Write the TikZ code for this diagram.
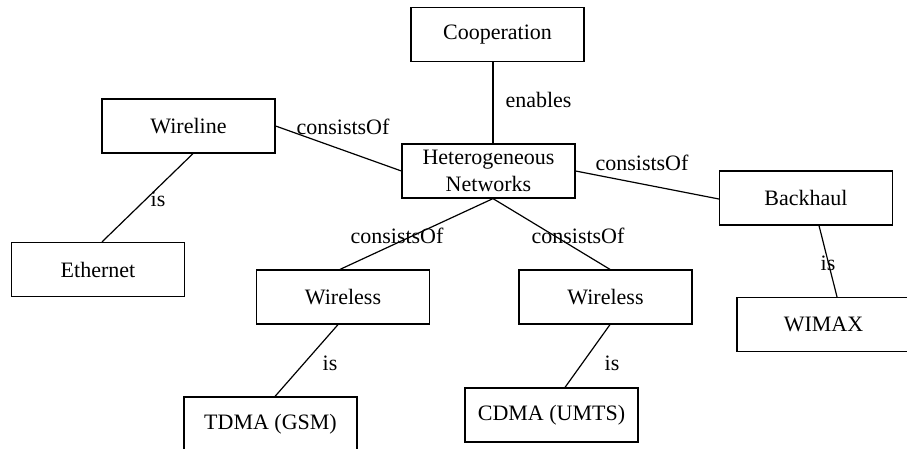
\documentclass[tikz,border=0pt]{standalone}
\usepackage{fontspec}
\setmainfont{Liberation Serif}
\begin{document}
\begin{tikzpicture}[x=1pt,y=-1pt,
  concept/.style={draw, line width=1.2pt, rectangle, minimum width=173pt, minimum height=54pt,
    inner sep=2pt, align=center, font=\fontsize{22}{27}\selectfont},
  rel/.style={anchor=base, inner sep=0pt, font=\fontsize{22}{27}\selectfont},
  link/.style={line width=1.2pt}]
\useasboundingbox (0,0) rectangle (907,449);
\clip (0,0) rectangle (907,449);

% concepts
\node[concept] (coop) at (497.5,34.5) {Cooperation};
\node[concept] (wireline) at (188.5,126) {Wireline};
\node[concept] (het) at (488.5,171) {Heterogeneous\\Networks};
\node[concept] (backhaul) at (806,198) {Backhaul};
\node[concept] (ethernet) at (98,269.5) {Ethernet};
\node[concept] (wl1) at (343,297) {Wireless};
\node[concept] (wl2) at (605.5,297) {Wireless};
\node[concept] (tdma) at (270.5,424) {TDMA (GSM)};
\node[concept] (cdma) at (551.5,415) {CDMA (UMTS)};
\node[concept] (wimax) at (823.5,324.5) {WIMAX};

% relations
\draw[link] (coop.south -| 493,0) -- (het.north -| 493,0);
\draw[link] (wireline.east) -- (het.west);
\draw[link] (het.east) -- ([yshift=-1pt]backhaul.west);
\draw[link] ([xshift=4.5pt]wireline.south) -- ([xshift=4pt]ethernet.north);
\draw[link] ([xshift=4.5pt]het.south) -- ([xshift=-3pt]wl1.north);
\draw[link] ([xshift=4.5pt]het.south) -- ([xshift=4.5pt]wl2.north);
\draw[link] ([xshift=-5pt]wl1.south) -- ([xshift=4.5pt]tdma.north);
\draw[link] ([xshift=4.5pt]wl2.south) -- ([xshift=13.5pt]cdma.north);
\draw[link] ([xshift=13pt]backhaul.south) -- ([xshift=13.5pt]wimax.north);

% relation labels
\node[rel] (lenables) at (538.5,108) {enables};
\node[rel] (lwire) at (343,135) {consistsOf};
\node[rel] (lback) at (642,171) {consistsOf};
\node[rel] (leth) at (158,207) {is};
\node[rel] (lwl1) at (397,243) {consistsOf};
\node[rel] (lwl2) at (578,243) {consistsOf};
\node[rel] (ltdma) at (330,370) {is};
\node[rel] (lcdma) at (612,370) {is};
\node[rel] (lwimax) at (828,270) {is};
\end{tikzpicture}
\end{document}
